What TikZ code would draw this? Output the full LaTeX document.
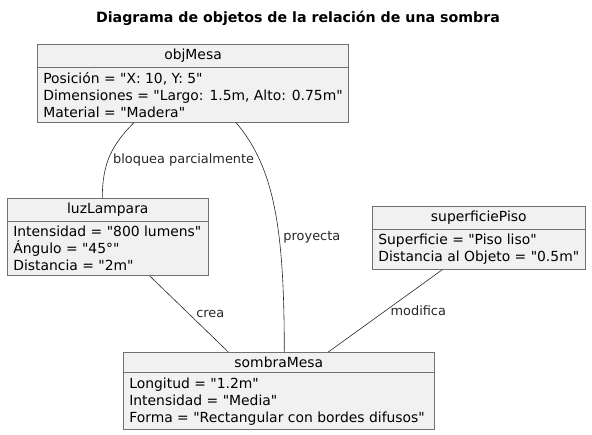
\documentclass[tikz,border=0pt]{standalone}
\usepackage{fontspec}
\setmainfont{DejaVu Sans}[Ligatures=TeXOff]
\usetikzlibrary{positioning, shapes.multipart}
\definecolor{objfill}{HTML}{F1F1F1}
\definecolor{objline}{HTML}{707070}

\begin{document}
\begin{tikzpicture}[
  x=1pt, y=-1pt,
  obj/.style={rectangle split, rectangle split parts=2,
              rectangle split part align={center, left},
              draw=objline, fill=objfill, line width=0.6pt,
              inner xsep=6pt, inner ysep=4.5pt, anchor=north west,
              font=\fontsize{13.9}{17}\selectfont, align=left},
  lnk/.style={line width=0.6pt, black!85},
  lbl/.style={font=\fontsize{12.9}{14}\selectfont, anchor=west, inner sep=1pt},
]
  \useasboundingbox (0,0) rectangle (592,435);

  \node[font=\bfseries\fontsize{14.2}{16}\selectfont] (titulo) at (298,18)
    {Diagrama de objetos de la relación de una sombra};

  \node[obj, minimum width=310pt] (objMesa) at (37,44)
    {objMesa
     \nodepart{second}
     Posición = "X: 10, Y: 5"\\
     Dimensiones = "Largo: 1.5m, Alto: 0.75m"\\
     Material = "Madera"};

  \node[obj, minimum width=201pt] (luzLampara) at (7,198)
    {luzLampara
     \nodepart{second}
     Intensidad = "800 lumens"\\
     Ángulo = "45°"\\
     Distancia = "2m"};

  \node[obj, minimum width=213pt] (superficiePiso) at (372,206)
    {superficiePiso
     \nodepart{second}
     Superficie = "Piso liso"\\
     Distancia al Objeto = "0.5m"};

  \node[obj, minimum width=311pt] (sombraMesa) at (123,352)
    {sombraMesa
     \nodepart{second}
     Longitud = "1.2m"\\
     Intensidad = "Media"\\
     Forma = "Rectangular con bordes difusos"};

  % enlaces
  \draw[lnk] ([xshift=-59pt]objMesa.south)
    .. controls +(-22,22) and +(0,-35) .. ([xshift=-5.5pt]luzLampara.north)
    node[lbl, pos=0.57, xshift=4pt] {bloquea parcialmente};
  \draw[lnk] ([xshift=43pt]objMesa.south)
    .. controls +(38,45) and +(0,-125) .. ([xshift=5.5pt]sombraMesa.north)
    node[lbl, pos=0.63, xshift=3pt] {proyecta};
  \draw[lnk] ([xshift=42pt]luzLampara.south) -- ([xshift=-50.5pt]sombraMesa.north)
    node[lbl, pos=0.5, xshift=6pt] {crea};
  \draw[lnk] ([xshift=-36.5pt]superficiePiso.south) -- ([xshift=49.5pt]sombraMesa.north)
    node[lbl, pos=0.5, xshift=4pt] {modifica};
\end{tikzpicture}
\end{document}
